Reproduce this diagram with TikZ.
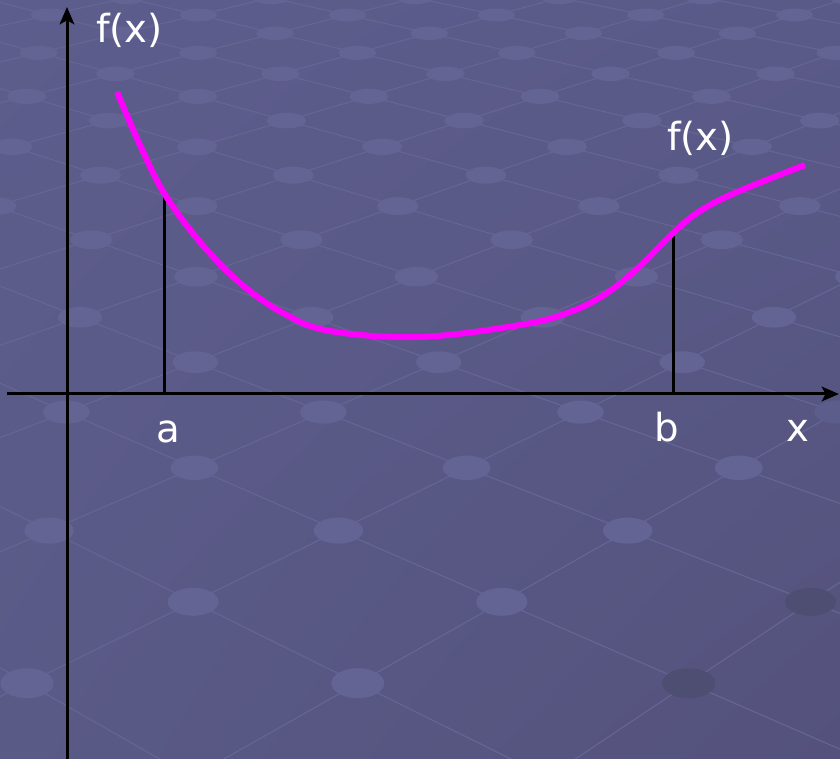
\documentclass[tikz,border=0pt]{standalone}
\usepackage{fontspec}
\setmainfont{DejaVu Sans}
\usetikzlibrary{arrows.meta,shadings}
\definecolor{bgul}{RGB}{93,93,141}
\definecolor{bgur}{RGB}{90,90,137}
\definecolor{bgll}{RGB}{90,90,135}
\definecolor{bglr}{RGB}{84,82,124}
\definecolor{spotlight}{RGB}{99,99,148}
\definecolor{spotdark}{RGB}{78,77,114}
\definecolor{gridtone}{RGB}{102,102,148}
\definecolor{curvepink}{RGB}{255,0,255}
\tikzset{
  gridline/.style={line width=0.8pt, draw=gridtone},
  axisline/.style={line width=2.25pt, draw=black, -{Stealth[length=13pt,width=11pt,inset=3pt]}},
  dropline/.style={line width=2.25pt, draw=black},
  curveline/.style={line width=4.5pt, draw=curvepink, line join=round},
  axislabel/.style={text=white, font=\fontsize{29}{34}\selectfont, inner sep=0pt, anchor=base},
}

\begin{document}
\begin{tikzpicture}[x=0.75pt,y=-0.75pt]
\useasboundingbox (0,0) rectangle (840,759);
\shade[upper left=bgul, upper right=bgur, lower left=bgll, lower right=bglr] (0,0) rectangle (840,759);
\begin{scope}
\clip (0,0) rectangle (840,759);
\pgfmathsetmacro{\Da}{1000/(1.8248+2*0.05897)}
\pgfmathsetmacro{\Db}{1000/(1.8248-19*0.05897)}
\foreach \j in {-7,...,9}{
  \pgfmathsetmacro{\xa}{-55+0.272*\Da*(0.7-0.888-\j)}
  \pgfmathsetmacro{\xb}{-55+0.272*\Db*(0.7+8.436-\j)}
  \draw[gridline] (\xa,{\Da-533}) -- (\xb,{\Db-533});
}
\foreach \i in {-2,...,13}{
  \pgfmathsetmacro{\xa}{-55+0.272*\Da*(0.7+1.112+\i)}
  \pgfmathsetmacro{\xb}{-55+0.272*\Db*(0.7-10.564+\i)}
  \draw[gridline] (\xa,{\Da-533}) -- (\xb,{\Db-533});
}
\foreach \k in {-1,...,18}{
  \pgfmathsetmacro{\D}{1000/(1.8248-0.05897*\k)}
  \pgfmathsetmacro{\f}{0.7-0.556*\k-floor(0.7-0.556*\k)}
  \pgfmathsetmacro{\rx}{(37+0.024*(\D-548))/2}
  \pgfmathsetmacro{\ry}{(13+0.0255*(\D-548))/2}
  \foreach \m in {-1,...,7}{
    \pgfmathsetmacro{\cx}{-55+0.272*\D*(\m+\f)}
    \pgfmathsetmacro{\cy}{\D-533}
    \pgfmathtruncatemacro{\pct}{min(100,max(0,(1360-\cx-\cy)/1.5))}
    \fill[spotlight!\pct!spotdark] (\cx,\cy) ellipse [x radius=\rx, y radius=\ry];
  }
}
\end{scope}
\coordinate (xfrom) at (7,394);
\coordinate (xto) at (839,394);
\coordinate (yfrom) at (67,759);
\coordinate (yto) at (67,7);
\coordinate (afoot) at (164,394);
\coordinate (atop) at (164,193);
\coordinate (bfoot) at (673,394);
\coordinate (btop) at (673,236);
\draw[dropline] (afoot) -- (atop);
\draw[dropline] (bfoot) -- (btop);
\draw[axisline] (xfrom) -- (xto);
\draw[axisline] (yfrom) -- (yto);
\draw[curveline] plot[smooth, tension=0.6] coordinates {(117,92) (140,145) (164,193) (200,242) (240,283) (283,313) (330,331) (420,337) (520,325) (570,312) (607,293) (640,266) (673,233) (700,211) (737,192) (805,165)};
\node[axislabel] (fxtop) at (129.5,43) {f(x)};
\node[axislabel] (fxright) at (700.5,151) {f(x)};
\node[axislabel] (alabel) at (168,443) {a};
\node[axislabel] (blabel) at (667,442) {b};
\node[axislabel] (xlabel) at (798,442) {x};
\end{tikzpicture}
\end{document}
